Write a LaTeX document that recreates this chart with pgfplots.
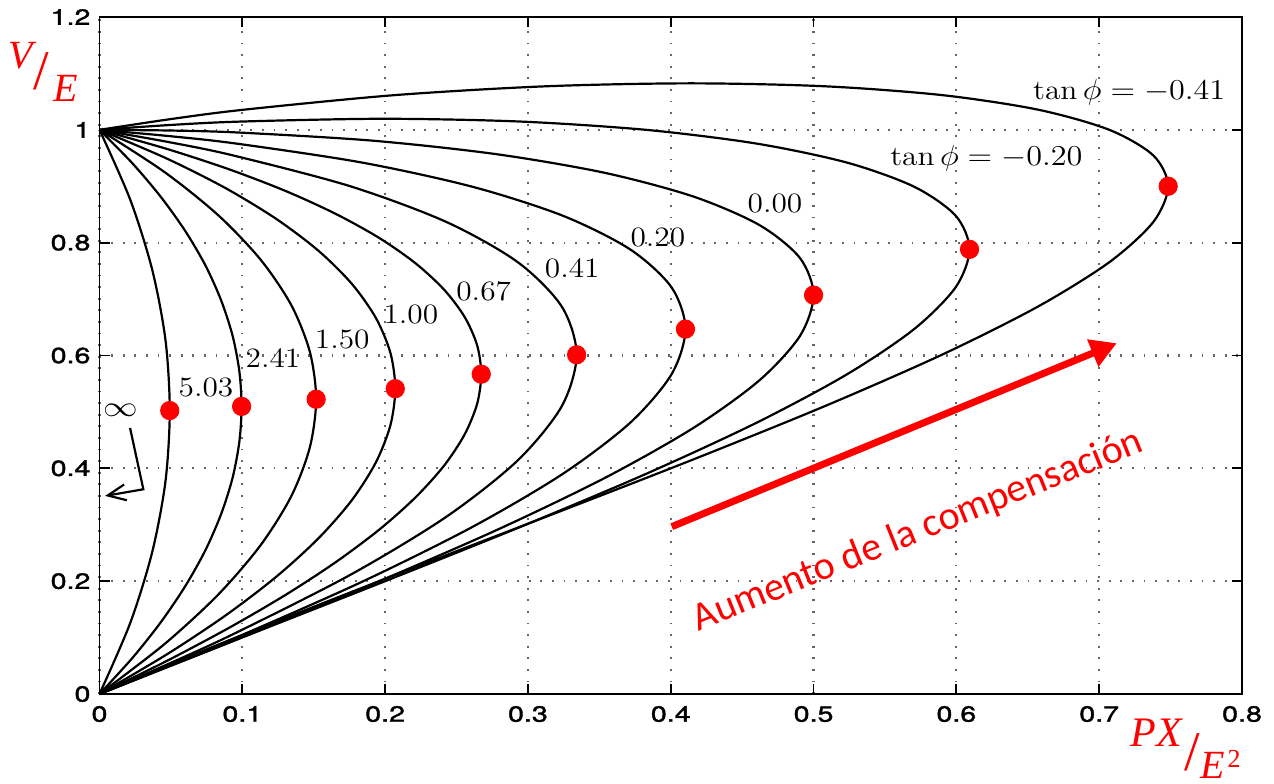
\documentclass[border=0pt]{standalone}
\usepackage{fontspec}
\usepackage{graphicx}
\usepackage{pgfplots}
\pgfplotsset{compat=1.18}
\usetikzlibrary{arrows.meta}
\newfontfamily\herosb[FakeBold=1.4]{TeX Gyre Heros}
\newfontfamily\carlito{Carlito}
\newfontfamily\libserif{Liberation Serif}
\newcommand\tl[1]{\scalebox{1.3}[1]{#1}}
\tikzset{
  pv/.style={black, line width=1.1pt, smooth},
  lbl/.style={font=\fontsize{14}{16}\selectfont, inner sep=0pt, xscale=1.12, transform shape},
}

\begin{document}
\begin{tikzpicture}
\begin{axis}[
  name=ax,
  scale only axis,
  width=571.25pt, height=338.5pt,
  xmin=0, xmax=0.8, ymin=0, ymax=1.2,
  xtick={0,0.1,0.2,0.3,0.4,0.5,0.6,0.7,0.8},
  xticklabels={\tl{0},\tl{0.1},\tl{0.2},\tl{0.3},\tl{0.4},\tl{0.5},\tl{0.6},\tl{0.7},\tl{0.8}},
  ytick={0,0.2,0.4,0.6,0.8,1,1.2},
  yticklabels={\tl{0},\tl{0.2},\tl{0.4},\tl{0.6},\tl{0.8},\tl{1},\tl{1.2}},
  tick align=inside,
  major tick length=5pt,
  tick style={black, line width=0.9pt},
  axis line style={black, line width=0.9pt},
  grid=major,
  major grid style={black!60, line width=1.1pt, dash pattern=on 0.9pt off 4.9pt},
  tick label style={font=\herosb\fontsize{11}{13}\selectfont},
  xticklabel style={yshift=-2.5pt},
  yticklabel style={xshift=-1pt},
  clip=false,
]
% nose curves V/E versus PX/E^2, one per load tan(phi)
% tan phi = 5.03
\addplot[pv] coordinates {(0,0) (0.0215,0.1258) (0.0369,0.2515) (0.0462,0.3771) (0.0492,0.5024) (0.0462,0.6275) (0.0369,0.7521) (0.0215,0.8763) (0,1)};
% tan phi = 2.41
\addplot[pv] coordinates {(0,0) (0.0231,0.0641) (0.0432,0.1282) (0.0603,0.1922) (0.0744,0.2561) (0.0853,0.3199) (0.0932,0.3834) (0.0979,0.4467) (0.0995,0.5098) (0.0979,0.5725) (0.0932,0.6349) (0.0853,0.6969) (0.0744,0.7586) (0.0603,0.8197) (0.0432,0.8803) (0.0231,0.9405) (0,1)};
% tan phi = 1.50
\addplot[pv] coordinates {(0,0) (0.0454,0.0883) (0.0832,0.1764) (0.1129,0.2641) (0.1344,0.3512) (0.1473,0.4374) (0.1517,0.5225) (0.1473,0.6064) (0.1344,0.6888) (0.1129,0.7696) (0.0832,0.8485) (0.0454,0.9254) (0,1)};
% tan phi = 1.00
\addplot[pv] coordinates {(0,0) (0.0466,0.0694) (0.0879,0.1386) (0.1236,0.2075) (0.1533,0.2759) (0.1767,0.3436) (0.1935,0.4105) (0.2037,0.4764) (0.2071,0.5412) (0.2037,0.6047) (0.1935,0.6667) (0.1767,0.7270) (0.1533,0.7857) (0.1236,0.8424) (0.0879,0.8972) (0.0466,0.9497) (0,1)};
% tan phi = 0.67
\addplot[pv] coordinates {(0,0) (0.0474,0.0590) (0.0911,0.1179) (0.1308,0.1765) (0.1659,0.2346) (0.1963,0.2922) (0.2215,0.3491) (0.2414,0.4052) (0.2557,0.4602) (0.2644,0.5142) (0.2673,0.5669) (0.2644,0.6183) (0.2557,0.6682) (0.2414,0.7164) (0.2215,0.7630) (0.1963,0.8077) (0.1659,0.8504) (0.1308,0.8911) (0.0911,0.9297) (0.0474,0.9660) (0,1)};
% tan phi = 0.41
\addplot[pv] coordinates {(0,0) (0.0480,0.0531) (0.0936,0.1061) (0.1756,0.2112) (0.2429,0.3142) (0.2929,0.4142) (0.3237,0.5102) (0.3341,0.6013) (0.3237,0.6867) (0.2929,0.7654) (0.2429,0.8367) (0.1756,0.9000) (0.0936,0.9546) (0.0480,0.9785) (0,1)};
% tan phi = 0.20
\addplot[pv] coordinates {(0,0) (0.0485,0.0500) (0.0956,0.0999) (0.1838,0.1989) (0.2610,0.2960) (0.3244,0.3902) (0.3715,0.4806) (0.4005,0.5665) (0.4103,0.6468) (0.4005,0.7210) (0.3715,0.7882) (0.3244,0.8478) (0.2610,0.8992) (0.1838,0.9420) (0.0956,0.9757) (0.0485,0.9890) (0,1)};
% tan phi = 0.00
\addplot[pv] coordinates {(0,0) (0.0490,0.0491) (0.0975,0.0980) (0.1913,0.1951) (0.2778,0.2903) (0.3536,0.3827) (0.4157,0.4714) (0.4619,0.5556) (0.4904,0.6344) (0.5,0.7071) (0.4904,0.7730) (0.4619,0.8315) (0.4157,0.8819) (0.3536,0.9239) (0.2778,0.9569) (0.1913,0.9808) (0.0975,0.9952) (0.0490,0.9988) (0,1)};
% tan phi = -0.20
\addplot[pv] coordinates {(0,0) (0.0495,0.0500) (0.0995,0.0999) (0.1989,0.1989) (0.2945,0.2960) (0.3827,0.3902) (0.4599,0.4806) (0.5233,0.5665) (0.5704,0.6468) (0.5995,0.7210) (0.6092,0.7882) (0.5995,0.8478) (0.5704,0.8992) (0.5233,0.9420) (0.4599,0.9757) (0.3827,1.0000) (0.2945,1.0147) (0.1989,1.0196) (0.0995,1.0147) (0.0495,1.0086) (0,1)};
% tan phi = -0.41
\addplot[pv] coordinates {(0,0) (0.0500,0.0531) (0.1015,0.1061) (0.2071,0.2112) (0.3127,0.3142) (0.4142,0.4142) (0.5078,0.5102) (0.5898,0.6013) (0.6571,0.6867) (0.7071,0.7654) (0.7379,0.8367) (0.7483,0.9000) (0.7379,0.9546) (0.7071,1.0000) (0.6571,1.0358) (0.5898,1.0616) (0.5078,1.0772) (0.4142,1.0824) (0.3127,1.0772) (0.2071,1.0616) (0.1015,1.0358) (0.0500,1.0191) (0,1)};

% maximum loadability points
\addplot[only marks, mark=*, mark size=4.6pt, mark options={draw=red, fill=red}] coordinates {
  (0.0492,0.5024) (0.0995,0.5098) (0.1517,0.5225) (0.2071,0.5412) (0.2673,0.5669)
  (0.3341,0.6013) (0.4103,0.6468) (0.5,0.7071) (0.6092,0.7882) (0.7483,0.9000)};

% curve labels
\node[lbl] at (axis cs:0.0746,0.544) {5.03};
\node[lbl] at (axis cs:0.1215,0.596) {2.41};
\node[lbl] at (axis cs:0.170,0.628) {1.50};
\node[lbl] at (axis cs:0.218,0.672) {1.00};
\node[lbl] at (axis cs:0.269,0.7145) {0.67};
\node[lbl] at (axis cs:0.331,0.755) {0.41};
\node[lbl] at (axis cs:0.391,0.810) {0.20};
\node[lbl] at (axis cs:0.473,0.869) {0.00};
\node[lbl] at (axis cs:0.621,0.949) {$\tan\phi = -0.20$};
\node[lbl] at (axis cs:0.721,1.067) {$\tan\phi = -0.41$};

% infinity marker
\node[font=\fontsize{14}{16}\selectfont, inner sep=0pt, xscale=1.2, transform shape] at (axis cs:0.0151,0.5035) {$\infty$};
\draw[black, line width=1.1pt, -{Straight Barb[length=9pt,width=8pt]}]
  (axis cs:0.0214,0.4716) -- (axis cs:0.0307,0.3629) -- (axis cs:0.0039,0.3511);

% axis names
\node[red, font=\libserif\itshape\fontsize{20}{22}\selectfont, inner sep=0pt] at (axis cs:-0.055,1.131) {V};
\node[red, font=\libserif\fontsize{28}{30}\selectfont, inner sep=0pt] at (axis cs:-0.041,1.103) {/};
\node[red, font=\libserif\itshape\fontsize{20}{22}\selectfont, inner sep=0pt] at (axis cs:-0.0235,1.074) {E};
\node[red, font=\libserif\itshape\fontsize{21}{23}\selectfont, inner sep=0pt] at (axis cs:0.7402,-0.0691) {PX};
\node[red, font=\libserif\fontsize{28}{30}\selectfont, inner sep=0pt] at (axis cs:0.7651,-0.103) {/};
\node[red, font=\libserif\itshape\fontsize{20}{22}\selectfont, inner sep=0pt] at (axis cs:0.7798,-0.1265) {E};
\node[red, font=\libserif\fontsize{13}{15}\selectfont, inner sep=0pt] at (axis cs:0.7945,-0.115) {2};

% compensation trend
\draw[red, line width=3.5pt, -{Triangle[length=13pt,width=14pt]}]
  (axis cs:0.4007,0.2966) -- (axis cs:0.7123,0.6218);
\node[red, rotate=22, anchor=base west, inner sep=0pt, font=\carlito\fontsize{20}{24}\selectfont]
  at (axis cs:0.4193,0.1105) {Aumento de la compensación};
\end{axis}
\pgfresetboundingbox
\path[use as bounding box] ([shift={(-49.75pt,-44.5pt)}]ax.south west) rectangle ([shift={(16pt,8.5pt)}]ax.north east);
\end{tikzpicture}
\end{document}
